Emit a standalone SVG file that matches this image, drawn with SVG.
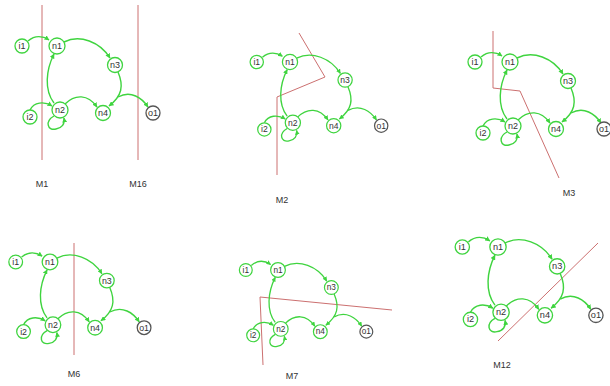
<svg xmlns="http://www.w3.org/2000/svg" width="610" height="386" viewBox="0 0 610 386">
<style>
.e{fill:none;stroke:#3fd43f;stroke-width:1.4}
.nd{fill:#fff;stroke:#3fd43f;stroke-width:1.3}
.out{fill:#fff;stroke:#555;stroke-width:1.3}
.t{font-family:"Liberation Sans",Arial,sans-serif;font-size:9px;fill:#333;text-anchor:middle}
.cut{fill:none;stroke:#cc7070;stroke-width:1}
.lb{font-family:"Liberation Sans",Arial,sans-serif;font-size:9px;fill:#333;text-anchor:middle}
</style>
<defs>
<marker id="ah" viewBox="0 0 10 10" refX="9" refY="5" markerWidth="5" markerHeight="5" markerUnits="userSpaceOnUse" orient="auto">
<path d="M0,0 L10,5 L0,10 z" fill="#3fd43f"/>
</marker>
</defs>
<rect width="610" height="386" fill="#fff"/>

<!-- cut lines -->
<g id="cuts">
<line class="cut" x1="42" y1="5" x2="42" y2="160"/>
<line class="cut" x1="138" y1="5" x2="138" y2="160"/>
<polyline class="cut" points="299,33 325,77 277,97 277,175"/>
<polyline class="cut" points="493,31 493,88 520,91 559,178"/>
<line class="cut" x1="74" y1="243" x2="74" y2="355"/>
<polyline class="cut" points="263,365 260,297 392,310"/>
<line class="cut" x1="498" y1="341" x2="598" y2="243"/>
</g>

<g id="labels">
<text class="lb" x="42" y="187">M1</text>
<text class="lb" x="138" y="187">M16</text>
<text class="lb" x="282" y="203">M2</text>
<text class="lb" x="569" y="196">M3</text>
<text class="lb" x="74" y="377">M6</text>
<text class="lb" x="292" y="379">M7</text>
<text class="lb" x="502" y="368">M12</text>
</g>

<!-- Panel 1 -->
<g id="p1" transform="translate(57,46)">
<g id="p1-edges">
<path class="e" d="M-29,-5 C-22,-11 -14,-10 -8,-6" marker-end="url(#ah)"/>
<path class="e" d="M7,-4 C23,-12 43,-4 53,12" marker-end="url(#ah)"/>
<path class="e" d="M61,26 C67,40 65,50 52,60" marker-end="url(#ah)"/>
<path class="e" d="M61,51 C74,44 85,52 91,61" marker-end="url(#ah)"/>
<path class="e" d="M-3,57 C-13,44 -11,24 -3,8" marker-end="url(#ah)"/>
<path class="e" d="M-27,64 C-23,56 -13,55 -5,60" marker-end="url(#ah)"/>
<path class="e" d="M8,58 C18,48 31,48 40,61" marker-end="url(#ah)"/>
<path class="e" d="M-3,70 C-12,75 -10,85 -1,83 C5,82 8,78 7,72" marker-end="url(#ah)"/>
</g>
<g id="p1-i1"><circle class="nd" cx="-35" cy="0" r="7"/><text class="t" x="-35" y="3">i1</text></g>
<g id="p1-n1"><circle class="nd" cx="0" cy="0" r="8"/><text class="t" x="0" y="3">n1</text></g>
<g id="p1-n3"><circle class="nd" cx="58" cy="19" r="7.5"/><text class="t" x="58" y="22">n3</text></g>
<g id="p1-n2"><circle class="nd" cx="3" cy="64" r="8"/><text class="t" x="3" y="67">n2</text></g>
<g id="p1-i2"><circle class="nd" cx="-27" cy="71" r="7"/><text class="t" x="-27" y="74">i2</text></g>
<g id="p1-n4"><circle class="nd" cx="46" cy="67" r="7.5"/><text class="t" x="46" y="70">n4</text></g>
<g id="p1-o1"><circle class="out" cx="96" cy="67" r="7"/><text class="t" x="96" y="70">o1</text></g>
</g>

<!-- Panel 2 -->
<g id="p2" transform="translate(290,62) scale(0.95)">
<g id="p2-edges">
<path class="e" d="M-29,-5 C-22,-11 -14,-10 -8,-6" marker-end="url(#ah)"/>
<path class="e" d="M7,-4 C23,-12 43,-4 53,12" marker-end="url(#ah)"/>
<path class="e" d="M61,26 C67,40 65,50 52,60" marker-end="url(#ah)"/>
<path class="e" d="M61,51 C74,44 85,52 91,61" marker-end="url(#ah)"/>
<path class="e" d="M-3,57 C-13,44 -11,24 -3,8" marker-end="url(#ah)"/>
<path class="e" d="M-27,64 C-23,56 -13,55 -5,60" marker-end="url(#ah)"/>
<path class="e" d="M8,58 C18,48 31,48 40,61" marker-end="url(#ah)"/>
<path class="e" d="M-3,70 C-12,75 -10,85 -1,83 C5,82 8,78 7,72" marker-end="url(#ah)"/>
</g>
<g id="p2-i1"><circle class="nd" cx="-35" cy="0" r="7"/><text class="t" x="-35" y="3">i1</text></g>
<g id="p2-n1"><circle class="nd" cx="0" cy="0" r="8"/><text class="t" x="0" y="3">n1</text></g>
<g id="p2-n3"><circle class="nd" cx="58" cy="19" r="7.5"/><text class="t" x="58" y="22">n3</text></g>
<g id="p2-n2"><circle class="nd" cx="3" cy="64" r="8"/><text class="t" x="3" y="67">n2</text></g>
<g id="p2-i2"><circle class="nd" cx="-27" cy="71" r="7"/><text class="t" x="-27" y="74">i2</text></g>
<g id="p2-n4"><circle class="nd" cx="46" cy="67" r="7.5"/><text class="t" x="46" y="70">n4</text></g>
<g id="p2-o1"><circle class="out" cx="96" cy="67" r="7"/><text class="t" x="96" y="70">o1</text></g>
</g>

<!-- Panel 3 -->
<g id="p3" transform="translate(510,62)">
<g id="p3-edges">
<path class="e" d="M-29,-5 C-22,-11 -14,-10 -8,-6" marker-end="url(#ah)"/>
<path class="e" d="M7,-4 C23,-12 43,-4 53,12" marker-end="url(#ah)"/>
<path class="e" d="M61,26 C67,40 65,50 52,60" marker-end="url(#ah)"/>
<path class="e" d="M61,51 C74,44 85,52 91,61" marker-end="url(#ah)"/>
<path class="e" d="M-3,57 C-13,44 -11,24 -3,8" marker-end="url(#ah)"/>
<path class="e" d="M-27,64 C-23,56 -13,55 -5,60" marker-end="url(#ah)"/>
<path class="e" d="M8,58 C18,48 31,48 40,61" marker-end="url(#ah)"/>
<path class="e" d="M-3,70 C-12,75 -10,85 -1,83 C5,82 8,78 7,72" marker-end="url(#ah)"/>
</g>
<g id="p3-i1"><circle class="nd" cx="-35" cy="0" r="7"/><text class="t" x="-35" y="3">i1</text></g>
<g id="p3-n1"><circle class="nd" cx="0" cy="0" r="8"/><text class="t" x="0" y="3">n1</text></g>
<g id="p3-n3"><circle class="nd" cx="58" cy="19" r="7.5"/><text class="t" x="58" y="22">n3</text></g>
<g id="p3-n2"><circle class="nd" cx="3" cy="64" r="8"/><text class="t" x="3" y="67">n2</text></g>
<g id="p3-i2"><circle class="nd" cx="-27" cy="71" r="7"/><text class="t" x="-27" y="74">i2</text></g>
<g id="p3-n4"><circle class="nd" cx="46" cy="67" r="7.5"/><text class="t" x="46" y="70">n4</text></g>
<g id="p3-o1"><circle class="out" cx="94" cy="67" r="7"/><text class="t" x="94" y="70">o1</text></g>
</g>

<!-- Panel 4 -->
<g id="p4" transform="translate(50,262) scale(0.98)">
<g id="p4-edges">
<path class="e" d="M-29,-5 C-22,-11 -14,-10 -8,-6" marker-end="url(#ah)"/>
<path class="e" d="M7,-4 C23,-12 43,-4 53,12" marker-end="url(#ah)"/>
<path class="e" d="M61,26 C67,40 65,50 52,60" marker-end="url(#ah)"/>
<path class="e" d="M61,51 C74,44 85,52 91,61" marker-end="url(#ah)"/>
<path class="e" d="M-3,57 C-13,44 -11,24 -3,8" marker-end="url(#ah)"/>
<path class="e" d="M-27,64 C-23,56 -13,55 -5,60" marker-end="url(#ah)"/>
<path class="e" d="M8,58 C18,48 31,48 40,61" marker-end="url(#ah)"/>
<path class="e" d="M-3,70 C-12,75 -10,85 -1,83 C5,82 8,78 7,72" marker-end="url(#ah)"/>
</g>
<g id="p4-i1"><circle class="nd" cx="-35" cy="0" r="7"/><text class="t" x="-35" y="3">i1</text></g>
<g id="p4-n1"><circle class="nd" cx="0" cy="0" r="8"/><text class="t" x="0" y="3">n1</text></g>
<g id="p4-n3"><circle class="nd" cx="58" cy="19" r="7.5"/><text class="t" x="58" y="22">n3</text></g>
<g id="p4-n2"><circle class="nd" cx="3" cy="64" r="8"/><text class="t" x="3" y="67">n2</text></g>
<g id="p4-i2"><circle class="nd" cx="-27" cy="71" r="7"/><text class="t" x="-27" y="74">i2</text></g>
<g id="p4-n4"><circle class="nd" cx="46" cy="67" r="7.5"/><text class="t" x="46" y="70">n4</text></g>
<g id="p4-o1"><circle class="out" cx="96" cy="67" r="7"/><text class="t" x="96" y="70">o1</text></g>
</g>

<!-- Panel 5 -->
<g id="p5" transform="translate(278,270) scale(0.92)">
<g id="p5-edges">
<path class="e" d="M-29,-5 C-22,-11 -14,-10 -8,-6" marker-end="url(#ah)"/>
<path class="e" d="M7,-4 C23,-12 43,-4 53,12" marker-end="url(#ah)"/>
<path class="e" d="M61,26 C67,40 65,50 52,60" marker-end="url(#ah)"/>
<path class="e" d="M61,51 C74,44 85,52 91,61" marker-end="url(#ah)"/>
<path class="e" d="M-3,57 C-13,44 -11,24 -3,8" marker-end="url(#ah)"/>
<path class="e" d="M-27,64 C-23,56 -13,55 -5,60" marker-end="url(#ah)"/>
<path class="e" d="M8,58 C18,48 31,48 40,61" marker-end="url(#ah)"/>
<path class="e" d="M-3,70 C-12,75 -10,85 -1,83 C5,82 8,78 7,72" marker-end="url(#ah)"/>
</g>
<g id="p5-i1"><circle class="nd" cx="-35" cy="0" r="7"/><text class="t" x="-35" y="3">i1</text></g>
<g id="p5-n1"><circle class="nd" cx="0" cy="0" r="8"/><text class="t" x="0" y="3">n1</text></g>
<g id="p5-n3"><circle class="nd" cx="58" cy="19" r="7.5"/><text class="t" x="58" y="22">n3</text></g>
<g id="p5-n2"><circle class="nd" cx="3" cy="64" r="8"/><text class="t" x="3" y="67">n2</text></g>
<g id="p5-i2"><circle class="nd" cx="-27" cy="71" r="7"/><text class="t" x="-27" y="74">i2</text></g>
<g id="p5-n4"><circle class="nd" cx="46" cy="67" r="7.5"/><text class="t" x="46" y="70">n4</text></g>
<g id="p5-o1"><circle class="out" cx="96" cy="67" r="7"/><text class="t" x="96" y="70">o1</text></g>
</g>

<!-- Panel 6 -->
<g id="p6" transform="translate(498,247) scale(1.02)">
<g id="p6-edges">
<path class="e" d="M-29,-5 C-22,-11 -14,-10 -8,-6" marker-end="url(#ah)"/>
<path class="e" d="M7,-4 C23,-12 43,-4 53,12" marker-end="url(#ah)"/>
<path class="e" d="M61,26 C67,40 65,50 52,60" marker-end="url(#ah)"/>
<path class="e" d="M61,51 C74,44 85,52 91,61" marker-end="url(#ah)"/>
<path class="e" d="M-3,57 C-13,44 -11,24 -3,8" marker-end="url(#ah)"/>
<path class="e" d="M-27,64 C-23,56 -13,55 -5,60" marker-end="url(#ah)"/>
<path class="e" d="M8,58 C18,48 31,48 40,61" marker-end="url(#ah)"/>
<path class="e" d="M-3,70 C-12,75 -10,85 -1,83 C5,82 8,78 7,72" marker-end="url(#ah)"/>
</g>
<g id="p6-i1"><circle class="nd" cx="-35" cy="0" r="7"/><text class="t" x="-35" y="3">i1</text></g>
<g id="p6-n1"><circle class="nd" cx="0" cy="0" r="8"/><text class="t" x="0" y="3">n1</text></g>
<g id="p6-n3"><circle class="nd" cx="58" cy="19" r="7.5"/><text class="t" x="58" y="22">n3</text></g>
<g id="p6-n2"><circle class="nd" cx="3" cy="64" r="8"/><text class="t" x="3" y="67">n2</text></g>
<g id="p6-i2"><circle class="nd" cx="-27" cy="71" r="7"/><text class="t" x="-27" y="74">i2</text></g>
<g id="p6-n4"><circle class="nd" cx="46" cy="67" r="7.5"/><text class="t" x="46" y="70">n4</text></g>
<g id="p6-o1"><circle class="out" cx="96" cy="67" r="7"/><text class="t" x="96" y="70">o1</text></g>
</g>
</svg>
